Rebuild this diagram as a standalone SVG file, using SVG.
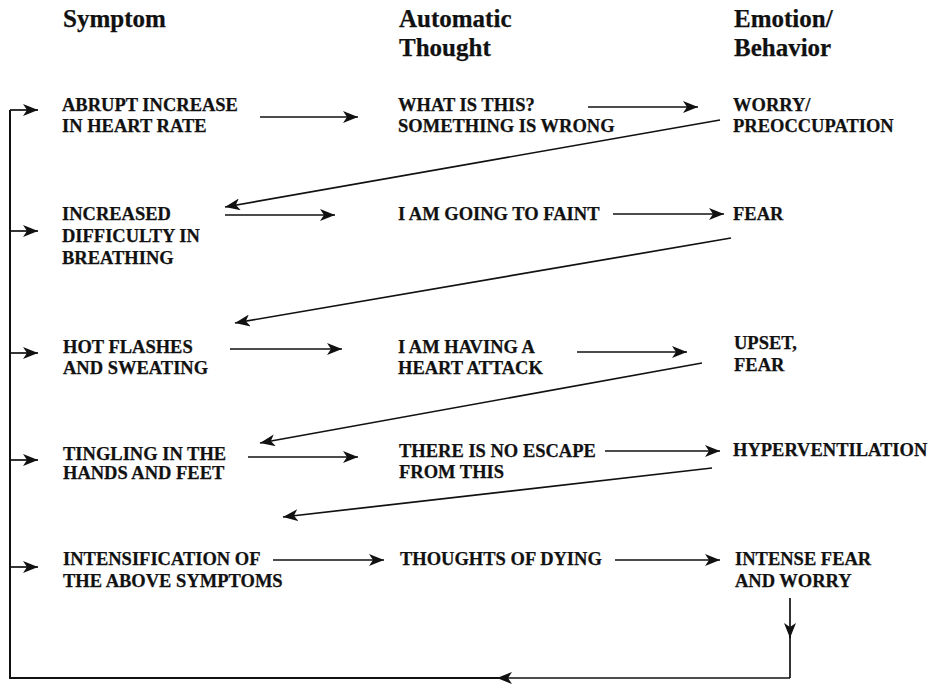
<svg xmlns="http://www.w3.org/2000/svg" width="937" height="684" viewBox="0 0 937 684">
<style>
text{font-family:"Liberation Serif","Times New Roman",serif;font-weight:bold;fill:#111;stroke:#111;stroke-width:0.25}
.h{font-size:25px}
.n{font-size:18.5px}
.c{fill:none;stroke:#111;stroke-width:1.7}
.a{marker-end:url(#ah)}
.t{stroke-width:2}
</style>
<defs>
<marker id="ah" markerUnits="userSpaceOnUse" markerWidth="16" markerHeight="12" refX="15" refY="6" orient="auto">
<path d="M0,0 L15,6 L0,12 L4,6 z" fill="#111"/>
</marker>
</defs>
<rect width="937" height="684" fill="#fff"/>
<g id="headers">
<text class="h" x="63" y="27">Symptom</text>
<text class="h" x="399" y="27">Automatic</text>
<text class="h" x="399" y="56">Thought</text>
<text class="h" x="734" y="27">Emotion/</text>
<text class="h" x="734" y="56">Behavior</text>
</g>
<g id="s1"><text class="n" x="62" y="111">ABRUPT INCREASE</text><text class="n" x="62" y="132">IN HEART RATE</text></g>
<g id="t1"><text class="n" x="398" y="111">WHAT IS THIS?</text><text class="n" x="398" y="132">SOMETHING IS WRONG</text></g>
<g id="e1"><text class="n" x="733" y="111">WORRY/</text><text class="n" x="733" y="132">PREOCCUPATION</text></g>
<g id="s2"><text class="n" x="62" y="220">INCREASED</text><text class="n" x="62" y="242">DIFFICULTY IN</text><text class="n" x="62" y="264">BREATHING</text></g>
<g id="t2"><text class="n" x="398" y="220">I AM GOING TO FAINT</text></g>
<g id="e2"><text class="n" x="733" y="220">FEAR</text></g>
<g id="s3"><text class="n" x="63" y="353">HOT FLASHES</text><text class="n" x="63" y="374">AND SWEATING</text></g>
<g id="t3"><text class="n" x="398" y="353">I AM HAVING A</text><text class="n" x="398" y="374">HEART ATTACK</text></g>
<g id="e3"><text class="n" x="734" y="349">UPSET,</text><text class="n" x="734" y="371">FEAR</text></g>
<g id="s4"><text class="n" x="63" y="460">TINGLING IN THE</text><text class="n" x="63" y="479">HANDS AND FEET</text></g>
<g id="t4"><text class="n" x="399" y="457">THERE IS NO ESCAPE</text><text class="n" x="399" y="478">FROM THIS</text></g>
<g id="e4"><text class="n" x="733" y="456">HYPERVENTILATION</text></g>
<g id="s5"><text class="n" x="63" y="565">INTENSIFICATION OF</text><text class="n" x="63" y="587">THE ABOVE SYMPTOMS</text></g>
<g id="t5"><text class="n" x="400" y="565">THOUGHTS OF DYING</text></g>
<g id="e5"><text class="n" x="735" y="565">INTENSE FEAR</text><text class="n" x="735" y="587">AND WORRY</text></g>
<g id="connectors">
<path class="c a" d="M260,117 H358"/>
<path class="c a" d="M588,107 H698"/>
<path class="c a" d="M720,120 L225,207"/>
<path class="c a" d="M225,215 H335"/>
<path class="c a" d="M613,214 H724"/>
<path class="c a" d="M731,238 L235,323"/>
<path class="c a" d="M230,349 H342"/>
<path class="c a" d="M577,352 H687"/>
<path class="c a" d="M702,363 L260,443"/>
<path class="c a" d="M248,457 H358"/>
<path class="c a" d="M605,451 H720"/>
<path class="c a" d="M712,468 L283,517"/>
<path class="c a" d="M273,560 H384"/>
<path class="c a" d="M615,560 H720"/>
<path class="c a" d="M790,598 V638"/>
<path class="c" d="M790,636 V678"/>
<path class="c a" d="M790,678 H497"/>
<path class="c t" d="M499,678 H10 V110"/>
<path class="c a" d="M10,110 H38"/>
<path class="c a" d="M10,231 H38"/>
<path class="c a" d="M10,353 H38"/>
<path class="c a" d="M10,460 H38"/>
<path class="c a" d="M10,567 H38"/>
</g>
</svg>
